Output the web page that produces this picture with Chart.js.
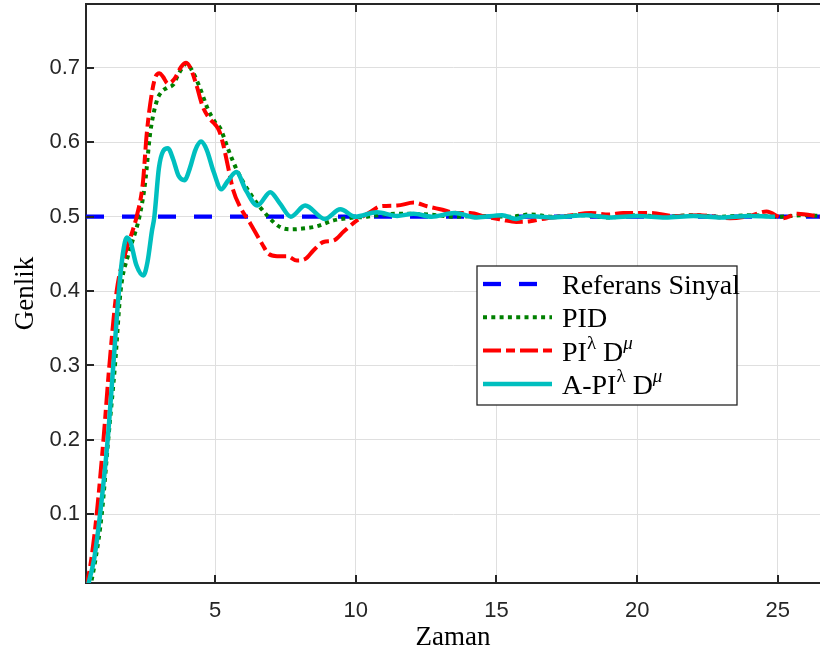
<!DOCTYPE html>
<html><head><meta charset="utf-8">
<script src="https://cdn.jsdelivr.net/npm/chart.js@4.4.0/dist/chart.umd.min.js"></script>
<style>html,body{margin:0;padding:0;background:#fff;overflow:hidden}canvas{display:block}</style>
</head><body>
<canvas id="c" width="820" height="662"></canvas>
<script>
const xTicks=[5,10,15,20,25];
const yTicks=[0.1,0.2,0.3,0.4,0.5,0.6,0.7];
const seriesLabels=['Referans Sinyal','PID','PI^λ D^μ','A-PI^λ D^μ'];

const refT=[0.41,26.5];
const refV=[0.5,0.5];

const pidT=[0.55,0.75,0.97,1.2,1.44,1.64,1.92,2.15,2.31,2.51,2.69,2.92,3.1,3.28,3.52,3.7,3.99,4.2,4.44,4.74,5.0,5.18,5.47,5.77,6.25,6.84,7.31,7.7,8.1,8.6,9.21,9.69,10.4,11.0,11.47,12.6,13.5,14.5,15.5,16.2,17.0,18.0,19.0,20.0,21.0,22.0,23.0,24.0,25.0,26.0,26.5];
const pidV=[0,0.04,0.1,0.2,0.3,0.4,0.45,0.478,0.5,0.545,0.612,0.655,0.668,0.673,0.678,0.692,0.706,0.695,0.675,0.645,0.627,0.619,0.59,0.563,0.531,0.502,0.486,0.483,0.484,0.487,0.495,0.498,0.5,0.503,0.504,0.503,0.5,0.501,0.5,0.503,0.5,0.502,0.499,0.502,0.5,0.502,0.5,0.502,0.5,0.502,0.501];

const fracT=[0.41,0.6,0.79,1.03,1.24,1.5,1.8,2.04,2.21,2.43,2.57,2.75,2.88,3.02,3.15,3.32,3.55,3.8,3.97,4.12,4.32,4.56,4.8,5.0,5.15,5.3,5.47,5.64,5.89,6.25,6.66,6.9,7.2,7.55,7.91,8.2,8.5,8.85,9.21,9.57,10.04,10.5,10.87,11.47,12.06,12.53,13.0,13.6,14.07,14.6,15.2,15.7,16.2,16.8,17.5,18.35,19.0,19.5,20.5,21.3,22.2,23.3,24.0,24.6,25.2,25.7,26.5];
const fracV=[0,0.04,0.1,0.2,0.3,0.4,0.45,0.478,0.5,0.545,0.612,0.666,0.688,0.693,0.688,0.679,0.685,0.702,0.707,0.7,0.679,0.648,0.632,0.624,0.615,0.595,0.565,0.536,0.513,0.491,0.464,0.45,0.447,0.447,0.441,0.443,0.455,0.466,0.468,0.48,0.495,0.506,0.514,0.515,0.519,0.514,0.51,0.505,0.505,0.5,0.496,0.493,0.494,0.498,0.501,0.505,0.503,0.505,0.505,0.501,0.502,0.498,0.501,0.507,0.498,0.504,0.5];

const adaptT=[0.45,0.7,0.91,1.18,1.38,1.58,1.72,1.86,2.0,2.2,2.45,2.6,2.75,2.84,3.0,3.15,3.32,3.5,3.7,3.91,4.1,4.3,4.5,4.7,4.95,5.22,5.45,5.75,6.1,6.5,6.96,7.3,7.69,8.2,8.9,9.45,9.98,10.75,11.47,12.05,12.7,13.5,14.3,15.2,15.7,16.1,17.0,18.2,19.0,20.0,21.0,22.0,23.0,24.0,24.9];
const adaptV=[0,0.04,0.1,0.2,0.3,0.4,0.45,0.472,0.465,0.435,0.421,0.44,0.48,0.5,0.565,0.588,0.592,0.578,0.555,0.549,0.565,0.59,0.601,0.59,0.56,0.537,0.548,0.56,0.535,0.515,0.533,0.518,0.5,0.515,0.497,0.51,0.5,0.506,0.501,0.504,0.5,0.505,0.499,0.502,0.497,0.501,0.499,0.502,0.499,0.501,0.499,0.501,0.499,0.501,0.5];

const pts=(T,V)=>T.map((t,i)=>({x:t,y:V[i]}));
const plain=s=>s.replace(/\^/g,'');

const datasets=[
 {label:plain(seriesLabels[0]),data:pts(refT,refV),borderColor:'#0000ff',borderWidth:4.3,borderDash:[18,18],order:3},
 {label:plain(seriesLabels[1]),data:pts(pidT,pidV),borderColor:'#008000',borderWidth:4,borderDash:[4,4.3],order:2},
 {label:plain(seriesLabels[2]),data:pts(fracT,fracV),borderColor:'#ff0000',borderWidth:4,borderDash:[18,5,9,5],order:1},
 {label:plain(seriesLabels[3]),data:pts(adaptT,adaptV),borderColor:'#00bfbf',borderWidth:4.5,borderDash:[],order:0}
];

const inwardTicks={id:'inwardTicks',afterDatasetsDraw(chart){
 const {ctx,chartArea:a,scales:{x,y}}=chart;
 ctx.save();ctx.strokeStyle='#262626';ctx.lineWidth=2;
 ctx.beginPath();ctx.moveTo(a.left-1,a.top);ctx.lineTo(a.right+1,a.top);ctx.stroke();
 ctx.beginPath();
 xTicks.forEach(v=>{const px=Math.round(x.getPixelForValue(v));ctx.moveTo(px,a.bottom);ctx.lineTo(px,a.bottom-8);ctx.moveTo(px,a.top);ctx.lineTo(px,a.top+8);});
 yTicks.forEach(v=>{const py=Math.round(y.getPixelForValue(v));ctx.moveTo(a.left,py);ctx.lineTo(a.left+8,py);});
 ctx.stroke();ctx.restore();
}};

function drawRich(ctx,str,x,y){
 let i=0;
 while(i<str.length){
  if(str[i]==='^'){
   const ch=str[i+1];
   ctx.font=(ch==='μ'?'italic ':'')+'19px "Liberation Serif"';
   ctx.fillText(ch,x,y-12);x+=ctx.measureText(ch).width;i+=2;
  }else{
   let j=i;while(j<str.length&&str[j]!=='^')j++;
   const s=str.slice(i,j);ctx.font='28px "Liberation Serif"';
   ctx.fillText(s,x,y);x+=ctx.measureText(s).width;i=j;
  }
 }
}

const boxLegend={id:'boxLegend',afterDraw(chart){
 const ctx=chart.ctx;ctx.save();
 const bx=477,by=266,bw=260,bh=139;
 ctx.fillStyle='#fff';ctx.fillRect(bx,by,bw,bh);
 ctx.strokeStyle='#262626';ctx.lineWidth=1.3;ctx.strokeRect(bx,by,bw,bh);
 chart.data.datasets.forEach((d,i)=>{
  const ry=284+i*33.3;
  ctx.strokeStyle=d.borderColor;ctx.lineWidth=d.borderWidth;ctx.setLineDash(d.borderDash);ctx.lineCap='butt';
  ctx.beginPath();ctx.moveTo(483,ry);ctx.lineTo(552,ry);ctx.stroke();
  ctx.setLineDash([]);
  ctx.fillStyle='#000';ctx.textBaseline='alphabetic';ctx.textAlign='left';
  drawRich(ctx,seriesLabels[i],562,ry+10);
 });
 ctx.restore();
}};

new Chart(document.getElementById('c'),{
 type:'line',
 data:{datasets},
 plugins:[inwardTicks,boxLegend],
 options:{
  responsive:false,animation:false,devicePixelRatio:1,
  layout:{padding:{top:4,left:0,right:0,bottom:0}},
  elements:{point:{radius:0},line:{cubicInterpolationMode:'monotone',borderCapStyle:'butt'}},
  plugins:{legend:{display:false},tooltip:{enabled:false}},
  scales:{
   x:{type:'linear',min:0.41,max:26.5,
    afterBuildTicks:s=>{s.ticks=xTicks.map(v=>({value:v}));},
    afterFit:s=>{s.height=79;s.paddingLeft=0;s.paddingRight=0;},
    grid:{color:'#dfdfdf',lineWidth:1,drawTicks:false},
    border:{display:true,color:'#262626',width:2},
    ticks:{padding:15,color:'#262626',font:{family:'"Liberation Sans", Arial',size:22},maxRotation:0,autoSkip:false,callback:v=>String(v)},
    title:{display:true,text:'Zaman',color:'#000',font:{family:'"Liberation Serif"',size:27},padding:{top:0,bottom:8}}
   },
   y:{type:'linear',min:0.0075,max:0.786,
    afterBuildTicks:s=>{s.ticks=yTicks.map(v=>({value:v}));},
    afterFit:s=>{s.width=86;s.paddingTop=0;s.paddingBottom=0;},
    grid:{color:'#dfdfdf',lineWidth:1,drawTicks:false},
    border:{display:true,color:'#262626',width:2},
    ticks:{padding:6,color:'#262626',font:{family:'"Liberation Sans", Arial',size:22},autoSkip:false,callback:v=>String(v)},
    title:{display:true,text:'Genlik',color:'#000',font:{family:'"Liberation Serif"',size:27},padding:{top:10,bottom:0}}
   }
  }
 }
});
</script>
</body></html>
